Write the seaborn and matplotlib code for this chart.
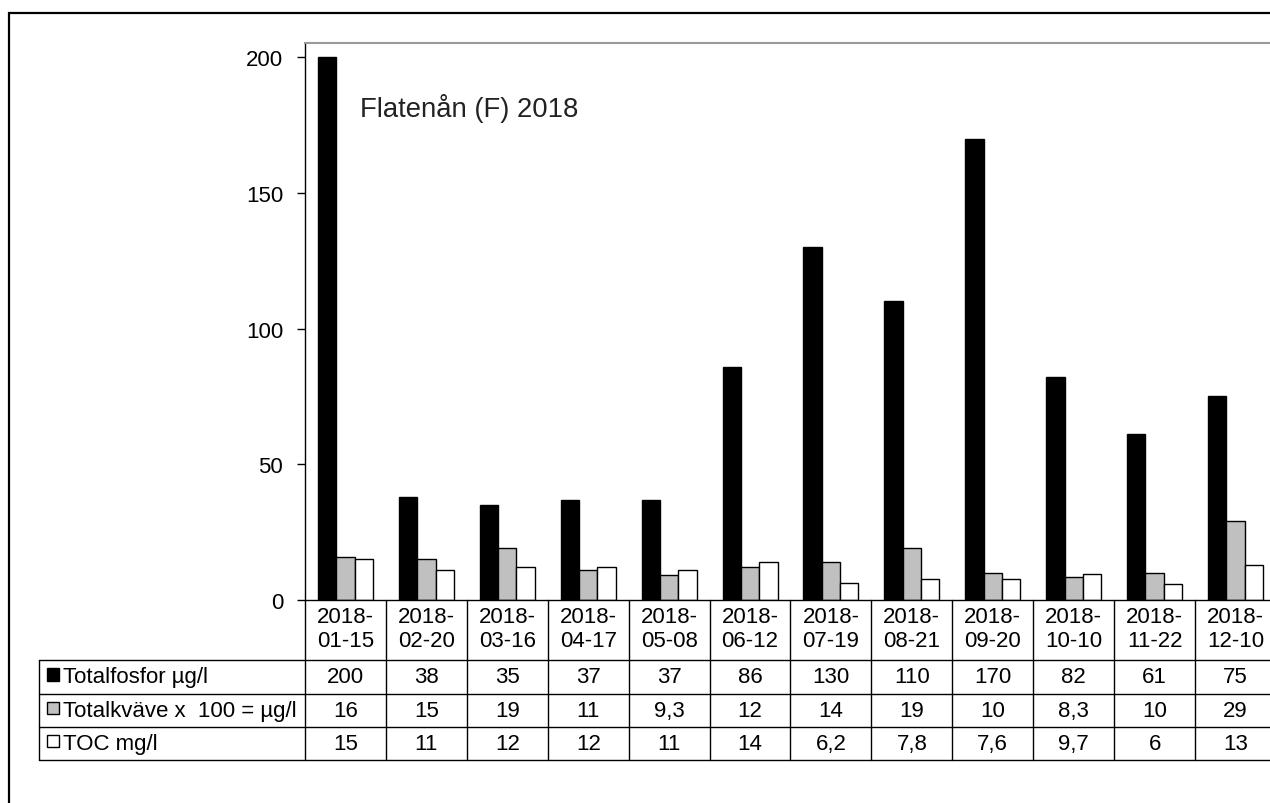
import numpy as np
import pandas as pd
import matplotlib
matplotlib.use("Agg")
import matplotlib.pyplot as plt
import matplotlib.transforms as mtransforms
from matplotlib.patches import Rectangle
from matplotlib.lines import Line2D
import seaborn as sns

# Sampling dates and measured values
dates = ["2018-01-15", "2018-02-20", "2018-03-16", "2018-04-17", "2018-05-08",
         "2018-06-12", "2018-07-19", "2018-08-21", "2018-09-20", "2018-10-10",
         "2018-11-22", "2018-12-10"]
series_names = ["Totalfosfor µg/l", "Totalkväve x  100 = µg/l", "TOC mg/l"]
totalfosfor = [200, 38, 35, 37, 37, 86, 130, 110, 170, 82, 61, 75]
totalkvave = [16, 15, 19, 11, 9.3, 12, 14, 19, 10, 8.3, 10, 29]
toc = [15, 11, 12, 12, 11, 14, 6.2, 7.8, 7.6, 9.7, 6, 13]
series_colors = ["black", "#C0C0C0", "white"]
yticks = [0, 50, 100, 150, 200]
title = "Flatenån (F) 2018"

sns.set_theme(style="white")
plt.rcParams["font.family"] = ["Liberation Sans", "DejaVu Sans"]

W, H = 1270, 804
fig = plt.figure(figsize=(W / 100, H / 100), dpi=100)
fig.patch.set_facecolor("white")


def fx(px):
    return px / W


def fy(py):
    return 1 - py / H


# plot area (extends slightly past the right edge of the canvas)
ax_l, ax_r, ax_t, ax_b = 305, 1276, 44, 601
ax = fig.add_axes([fx(ax_l), fy(ax_b), (ax_r - ax_l) / W, (ax_b - ax_t) / H])

long = pd.DataFrame({
    "date": dates * 3,
    "series": np.repeat(series_names, len(dates)),
    "value": totalfosfor + totalkvave + toc,
})

sns.barplot(data=long, x="date", y="value", hue="series", order=dates,
            hue_order=series_names, palette=series_colors, saturation=1,
            width=0.68, edgecolor="black", linewidth=1.0, legend=False, ax=ax)

ax.set_xlim(-0.5, len(dates) - 0.5)
ax.set_ylim(0, 205.2)
ax.set_xlabel("")
ax.set_ylabel("")
ax.set_xticks([])
ax.set_yticks(yticks)
ax.set_yticklabels([str(t) for t in yticks])
ax.tick_params(axis="y", left=True, direction="out", length=5.8, width=1.0,
               color="black", pad=10, labelsize=16, labelcolor="black")
for side in ["left", "bottom"]:
    ax.spines[side].set_color("black")
    ax.spines[side].set_linewidth(1.0)
ax.spines["top"].set_color("#999999")
ax.spines["top"].set_linewidth(1.5)
ax.spines["right"].set_visible(False)
ax.grid(False)

ax.text((360 - ax_l) / (ax_r - ax_l), (ax_b - 117) / (ax_b - ax_t), title,
        transform=ax.transAxes, ha="left", va="baseline", fontsize=19.8,
        color="#222222")

# data table below the plot
blend = mtransforms.blended_transform_factory(ax.transData, fig.transFigure)
row_lines = [661, 695, 728, 761]
row_centers = [678, 711.5, 744.5]
table_left = 39
lw_tab = 1.0

for py in row_lines:
    fig.add_artist(Line2D([fx(table_left), fx(1300)], [fy(py), fy(py)],
                          color="black", lw=lw_tab))
fig.add_artist(Line2D([fx(table_left), fx(table_left)], [fy(661), fy(761)],
                      color="black", lw=lw_tab))
for k in range(len(dates) + 1):
    xk = k - 0.5
    ax.add_line(Line2D([xk, xk], [fy(601), fy(761)], transform=blend,
                       color="black", lw=lw_tab, clip_on=False))

for i, d in enumerate(dates):
    top, bottom = d[:5], d[5:]
    ax.text(i, fy(618), top, transform=blend, ha="center", va="center",
            fontsize=16, color="black", clip_on=False)
    ax.text(i, fy(642), bottom, transform=blend, ha="center", va="center",
            fontsize=16, color="black", clip_on=False)


def fmt(v):
    return f"{v:g}".replace(".", ",")


for values, yc in zip([totalfosfor, totalkvave, toc], row_centers):
    for i, v in enumerate(values):
        ax.text(i, fy(yc), fmt(v), transform=blend, ha="center", va="center",
                fontsize=16, color="black", clip_on=False)

key = 12.6
for name, col, yc in zip(series_names, series_colors, row_centers):
    fig.add_artist(Rectangle((fx(46.7), fy(yc - 2.5 + key / 2)), key / W, key / H,
                             transform=fig.transFigure, facecolor=col,
                             edgecolor="black", lw=1.0))
    fig.text(fx(63), fy(yc), name, ha="left", va="center", fontsize=16,
             color="black")

# outer chart frame (runs off the right and bottom edges)
fig.add_artist(Rectangle((fx(8.5), fy(900)), (1400 - 8.5) / W, (900 - 14) / H,
                         transform=fig.transFigure, fill=False,
                         edgecolor="black", lw=1.6))

fig.savefig("out.png", dpi=100)
